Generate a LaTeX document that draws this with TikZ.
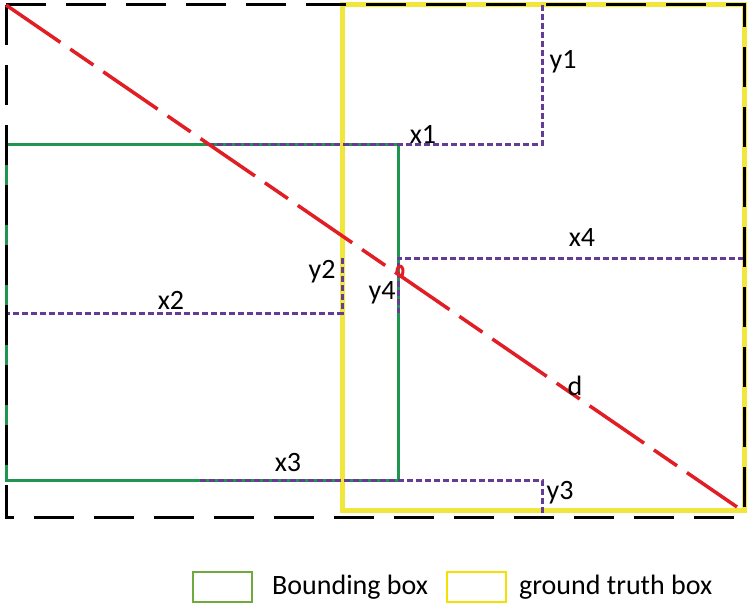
\documentclass[tikz,border=0pt]{standalone}
\usepackage{fontspec}
\setmainfont{Carlito}
\definecolor{redc}{RGB}{225,30,35}
\definecolor{greenc}{RGB}{30,150,80}
\definecolor{yellowc}{RGB}{240,230,60}
\definecolor{purplec}{RGB}{100,60,150}
\definecolor{leggreen}{RGB}{110,170,60}
\definecolor{legyellow}{RGB}{245,225,0}
\tikzset{
  outerbox/.style={draw=black, line width=3, dash pattern=on 40pt off 20pt},
  truthbox/.style={draw=yellowc, line width=5},
  bbox/.style={draw=greenc, line width=3},
  gapline/.style={draw=purplec, line width=3, dash pattern=on 6pt off 3pt},
  diag/.style={draw=redc, line width=3.5, dash pattern=on 66pt off 12pt on 28pt off 12pt},
  lbl/.style={font=\fontsize{28}{32}\selectfont, text=black, inner sep=0pt},
  legbox/.style={line width=2, minimum width=59pt, minimum height=30pt, inner sep=0pt}
}
\begin{document}
\begin{tikzpicture}[x=1pt,y=-1pt]
\useasboundingbox (0,0) rectangle (755,615);
% corners
\coordinate (OTL) at (6,5);
\coordinate (OBR) at (744,517);
\coordinate (YTL) at (342,5);
\coordinate (YBR) at (744,510);
\coordinate (GTL) at (6,145);
\coordinate (GBR) at (398,480);
% green bounding box
\draw[bbox] (GTL) rectangle (GBR);
% yellow ground truth
\draw[truthbox] (YTL) rectangle (YBR);
% purple dotted
\coordinate (y1t) at (542,5);
\coordinate (y1b) at (542,145);
\coordinate (x1l) at (205,145);
\coordinate (x4r) at (744,258);
\coordinate (x4l) at (398,258);
\coordinate (y4b) at (398,313);
\coordinate (y2t) at (342,258);
\coordinate (y2b) at (342,313);
\coordinate (x2l) at (6,313);
\coordinate (x3l) at (200,480);
\coordinate (x3r) at (542,480);
\coordinate (y3b) at (542,515);
\draw[gapline] (y1t) -- (y1b) -- (x1l);
\draw[gapline] (x4r) -- (x4l) -- (y4b);
\draw[gapline] (y2t) -- (y2b) -- (x2l);
\draw[gapline] (x3l) -- (x3r) -- (y3b);
% outer dashed
\draw[outerbox] (OTL) rectangle (OBR);
% red diagonal
\coordinate (dA) at (6,5);
\coordinate (dB) at (737,507);
\draw[diag] (dA) -- (dB);
\coordinate (hk1) at (397,273);
\coordinate (hk2) at (402,276);
\draw[draw=redc, line width=3, line cap=round] (hk1) .. controls (396,263) and (406,264) .. (hk2);
% labels
\node[lbl] (ly1) at (563,62) {y1};
\node[lbl] (lx1) at (423,134) {x1};
\node[lbl] (lx4) at (582,238) {x4};
\node[lbl] (ly2) at (322,272) {y2};
\node[lbl] (ly4) at (382,293) {y4};
\node[lbl] (lx2) at (171,300) {x2};
\node[lbl] (ld) at (575,386) {d};
\node[lbl] (lx3) at (288,463) {x3};
\node[lbl] (ly3) at (560,493) {y3};
% legend
\node[legbox, draw=leggreen] (lg1) at (222.5,587) {};
\node[lbl, anchor=west] (lt1) at (272,587) {Bounding box};
\node[legbox, draw=legyellow] (lg2) at (476.5,587) {};
\node[lbl, anchor=west] (lt2) at (519,587) {ground truth box};
\end{tikzpicture}
\end{document}
